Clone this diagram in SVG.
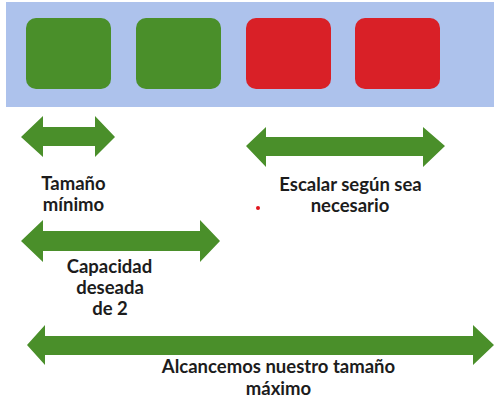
<svg xmlns="http://www.w3.org/2000/svg" width="498" height="401" viewBox="0 0 498 401">
<style>
.band{fill:#adc2ec}
.g{fill:#4a8f2a}
.r{fill:#d92027}
.arrow{fill:#4a8f2a}
text{font-family:Lato,"Liberation Sans",sans-serif;font-weight:bold;font-size:18.5px;fill:#1c1c1c;text-anchor:middle}
</style>
<rect width="498" height="401" fill="#ffffff"/>
<g id="band"><rect class="band" x="6" y="2" width="488" height="105"/></g>
<g id="node1"><rect class="g" x="26" y="18" width="85" height="71" rx="10"/></g>
<g id="node2"><rect class="g" x="136" y="18" width="85" height="71" rx="10"/></g>
<g id="node3"><rect class="r" x="246" y="18" width="85" height="71" rx="10"/></g>
<g id="node4"><rect class="r" x="355" y="18" width="85" height="71" rx="10"/></g>
<g id="connectors">
<polygon class="arrow" points="21,137 43,116 43,127 95,127 95,116 115,137 95,157 95,146 43,146 43,157"/>
<polygon class="arrow" points="246,146 266,127 266,137 423,137 423,127 445,146 423,167 423,156 266,156 266,167"/>
<polygon class="arrow" points="21,241 43,220 43,231 200,231 200,220 220,241 200,262 200,251 43,251 43,262"/>
<polygon class="arrow" points="27,345 45,325 45,336 473,336 473,325 494,345 473,365 473,355 45,355 45,365"/>
</g>
<g id="labels">
<text x="73.5" y="190">Tamaño</text>
<text x="73.5" y="211">mínimo</text>
<text x="350.5" y="191">Escalar según sea</text>
<text x="350" y="212">necesario</text>
<text x="109.5" y="273">Capacidad</text>
<text x="110" y="293.5">deseada</text>
<text x="110" y="315">de 2</text>
<text x="278.5" y="373">Alcancemos nuestro tamaño</text>
<text x="278.5" y="395">máximo</text>
</g>
<circle cx="258" cy="208" r="2" fill="#e0141c"/>
</svg>
